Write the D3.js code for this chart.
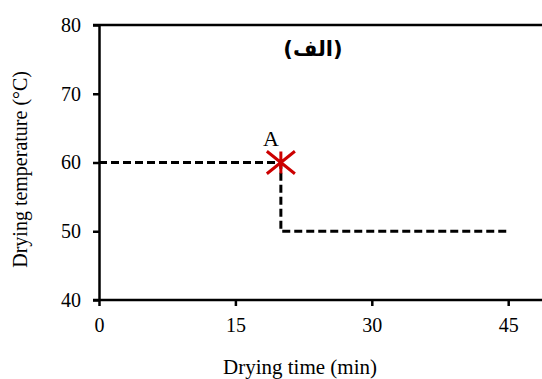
<!DOCTYPE html>
<html>
<head>
<meta charset="utf-8">
<script src="https://cdn.jsdelivr.net/npm/d3@7"></script>
<style>
  body { margin: 0; background: #fff; }
  text { font-family: "Liberation Serif", "Times New Roman", serif; }
</style>
</head>
<body>
<div id="chart"></div>
<script>
// step profile of drying temperature
var timeVals = [0, 20, 20, 45];
var tempVals = [60, 60, 50, 50];
var markTime = [20];
var markTemp = [60];
var markLabel = ["A"];
var xTicks = [0, 15, 30, 45];
var yTicks = [40, 50, 60, 70, 80];
var panelLabel = "(الف)";

var W = 542, H = 379;
var margin = {top: 25, left: 99, bottom: 78};

var svg = d3.select("#chart")
  .append("svg")
    .attr("width", W)
    .attr("height", H);

var x = d3.scaleLinear()
    .domain([0, 50])
    .range([margin.left, margin.left + 50 * (136.4 / 15)]);

var y = d3.scaleLinear()
    .domain([40, 80])
    .range([H - margin.bottom - 1, margin.top]);

// top border at 80
svg.append("line")
    .attr("x1", x(0) - 6).attr("x2", W)
    .attr("y1", y(80)).attr("y2", y(80))
    .attr("stroke", "#000").attr("stroke-width", 2.5);

var yAxis = svg.append("g")
    .attr("transform", "translate(" + x(0) + ",0)")
    .call(d3.axisLeft(y).tickValues(yTicks).tickSize(6).tickPadding(12).tickSizeOuter(0));

var xAxis = svg.append("g")
    .attr("transform", "translate(0," + y(40) + ")")
    .call(d3.axisBottom(x).tickValues(xTicks).tickSize(6).tickPadding(12).tickSizeOuter(0));

[xAxis, yAxis].forEach(function(g) {
  g.select(".domain").attr("stroke", "#000").attr("stroke-width", 2.5);
  g.selectAll(".tick line").attr("stroke", "#000").attr("stroke-width", 2.5);
  g.selectAll("text")
    .attr("fill", "#000")
    .style("font-family", "'Liberation Serif', serif")
    .style("font-size", "20px");
});
xAxis.select(".domain").attr("d", "M" + (x(0) - 6) + ",0H" + W);

var line = d3.line()
    .x(function(d, i) { return x(timeVals[i]); })
    .y(function(d, i) { return y(tempVals[i]); });

svg.append("path")
    .datum(timeVals)
    .attr("d", line)
    .attr("fill", "none")
    .attr("stroke", "#000")
    .attr("stroke-width", 3)
    .attr("stroke-dasharray", "8,4");

// star marker
var star = d3.symbol().type({
  draw: function(ctx, size) {
    var r = Math.sqrt(size) / 2;
    var d = r * 0.95;
    ctx.moveTo(-d, -d * 0.8); ctx.lineTo(d, d * 0.8);
    ctx.moveTo(-d, d * 0.8); ctx.lineTo(d, -d * 0.8);
    ctx.moveTo(0, -r * 0.75); ctx.lineTo(0, r * 0.75);
  }
}).size(28 * 28 / 0.9);

svg.selectAll(".mark")
  .data(markTime)
  .enter()
  .append("path")
    .attr("class", "mark")
    .attr("transform", function(d, i) { return "translate(" + x(d) + "," + y(markTemp[i]) + ")"; })
    .attr("d", star)
    .attr("fill", "none")
    .attr("stroke", "#cc0000")
    .attr("stroke-width", 3);

svg.selectAll(".markLabel")
  .data(markLabel)
  .enter()
  .append("text")
    .attr("x", function(d, i) { return x(markTime[i]) - 10; })
    .attr("y", function(d, i) { return y(markTemp[i]) - 17; })
    .attr("text-anchor", "middle")
    .style("font-size", "22px")
    .text(function(d) { return d; });

svg.append("text")
    .attr("x", 313)
    .attr("y", 56)
    .attr("text-anchor", "middle")
    .attr("direction", "rtl")
    .style("font-family", "'DejaVu Sans', sans-serif")
    .style("font-weight", "bold")
    .style("font-size", "21px")
    .text(panelLabel);

svg.append("text")
    .attr("x", 300)
    .attr("y", 374)
    .attr("text-anchor", "middle")
    .style("font-size", "21px")
    .text("Drying time (min)");

svg.append("text")
    .attr("transform", "translate(27," + y(59) + ") rotate(-90)")
    .attr("text-anchor", "middle")
    .style("font-size", "20px")
    .text("Drying temperature (°C)");
</script>
</body>
</html>
